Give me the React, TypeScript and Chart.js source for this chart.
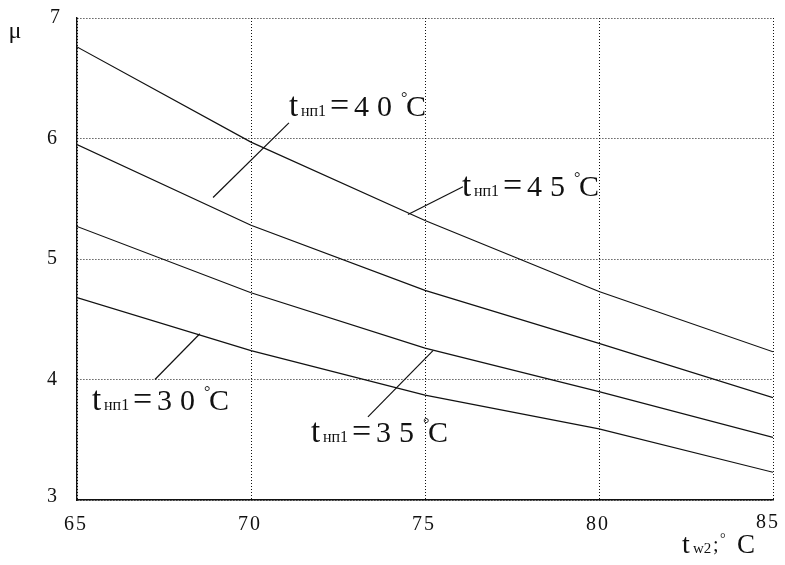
import React, { useEffect, useRef } from "react";
import { Chart, registerables } from "chart.js";

Chart.register(...registerables);

const xValues = [65, 70, 75, 80, 85];
const mu45 = [6.76, 5.97, 5.32, 4.73, 4.23];
const mu40 = [5.95, 5.28, 4.74, 4.3, 3.85];
const mu35 = [5.27, 4.72, 4.26, 3.9, 3.52];
const mu30 = [4.68, 4.24, 3.87, 3.59, 3.23];

const xTicks = [65, 70, 75, 80, 85];
const yTicks = [3, 4, 5, 6, 7];

// curve labels: temperature, leader line (data coords) and text anchor (data coords)
const labelTemps = ["40", "45", "35", "30"];
const leaderFrom = [
  [68.91, 5.51],
  [74.51, 5.37],
  [73.36, 3.69],
  [67.24, 4.0],
];
const leaderTo = [
  [71.09, 6.13],
  [76.09, 5.6],
  [75.23, 4.24],
  [68.53, 4.38],
];
const textAt = [
  [71.12, 6.19],
  [76.09, 5.52],
  [71.75, 3.48],
  [65.46, 3.75],
];

const FONT = "'Liberation Serif', 'DejaVu Serif', serif";

function drawCurveLabel(ctx: CanvasRenderingContext2D, x: number, y: number, temp: string) {
  ctx.save();
  (ctx as any).letterSpacing = "0px";
  ctx.fillStyle = "#111";
  ctx.textAlign = "left";
  ctx.textBaseline = "alphabetic";
  ctx.font = `33px ${FONT}`;
  ctx.fillText("t", x - 1, y);
  ctx.font = `16px ${FONT}`;
  ctx.fillText("нп1", x + 11, y);
  ctx.font = `34px ${FONT}`;
  ctx.fillText("=", x + 40, y);
  ctx.font = `30px ${FONT}`;
  ctx.fillText(temp[0], x + 64, y);
  ctx.fillText(temp[1], x + 87, y);
  ctx.font = `16px ${FONT}`;
  ctx.fillText("°", x + 111, y - 13);
  ctx.font = `30px ${FONT}`;
  ctx.fillText("C", x + 116, y);
  ctx.restore();
}

const annotPlugin = {
  id: "annot",
  afterDatasetsDraw(chart: any) {
    const ctx: CanvasRenderingContext2D = chart.ctx;
    const xs = chart.scales.x;
    const ys = chart.scales.y;
    const area = chart.chartArea;
    ctx.save();
    ctx.strokeStyle = "#111";
    ctx.lineWidth = 1.2;
    for (let i = 0; i < labelTemps.length; i++) {
      ctx.beginPath();
      ctx.moveTo(xs.getPixelForValue(leaderFrom[i][0]), ys.getPixelForValue(leaderFrom[i][1]));
      ctx.lineTo(xs.getPixelForValue(leaderTo[i][0]), ys.getPixelForValue(leaderTo[i][1]));
      ctx.stroke();
      drawCurveLabel(ctx, xs.getPixelForValue(textAt[i][0]), ys.getPixelForValue(textAt[i][1]), labelTemps[i]);
    }
    // tick labels
    ctx.fillStyle = "#111";
    ctx.font = `20px ${FONT}`;
    (ctx as any).letterSpacing = "2px";
    ctx.textBaseline = "middle";
    ctx.textAlign = "center";
    for (const v of yTicks) {
      ctx.fillText(String(v), area.left - 24 + (v === 7 ? 3 : 0), ys.getPixelForValue(v) - (v === 3 ? 3 : 0));
    }
    for (const v of xTicks) {
      const last = v === xTicks[xTicks.length - 1];
      ctx.fillText(String(v), xs.getPixelForValue(v) - (last ? 5 : 1), area.bottom + (last ? 23 : 25));
    }
    (ctx as any).letterSpacing = "0px";
    // axis titles
    ctx.textAlign = "center";
    ctx.textBaseline = "alphabetic";
    ctx.font = `24px ${FONT}`;
    ctx.fillText("μ", 15, 38);
    ctx.textAlign = "left";
    const tx = area.right - 91;
    const ty = area.bottom + 53;
    ctx.font = `28px ${FONT}`;
    ctx.fillText("t", tx, ty);
    ctx.font = `15px ${FONT}`;
    ctx.fillText("w2", tx + 11, ty);
    ctx.font = `20px ${FONT}`;
    ctx.fillText(";", tx + 31, ty - 2);
    ctx.font = `14px ${FONT}`;
    ctx.fillText("°", tx + 38, ty - 10);
    ctx.font = `27px ${FONT}`;
    ctx.fillText("C", tx + 55, ty);
    ctx.restore();
  },
};

export default function App() {
  const ref = useRef<HTMLCanvasElement | null>(null);
  useEffect(() => {
    if (!ref.current) return;
    const mk = (vals: number[]) => ({
      data: xValues.map((x, i) => ({ x, y: vals[i] })),
      borderColor: "#111",
      borderWidth: 1.2,
      pointRadius: 0,
      tension: 0,
      fill: false,
    });
    const chart = new Chart(ref.current, {
      type: "line",
      data: { datasets: [mk(mu45), mk(mu40), mk(mu35), mk(mu30)] as any },
      options: {
        animation: false,
        responsive: false,
        devicePixelRatio: 1,
        layout: { padding: { left: 77, top: 18, right: 12, bottom: 65 } },
        plugins: { legend: { display: false }, tooltip: { enabled: false } },
        scales: {
          x: {
            type: "linear",
            min: 65,
            max: 85,
            ticks: { display: false, stepSize: 5 },
            grid: { color: "#111", lineWidth: 1, drawTicks: false },
            border: { display: true, color: "#111", width: 1.4, dash: [1, 2] },
          },
          y: {
            type: "linear",
            min: 3,
            max: 7,
            ticks: { display: false, stepSize: 1 },
            grid: { color: "#111", lineWidth: 1, drawTicks: false },
            border: { display: true, color: "#111", width: 1.4, dash: [1, 2] },
          },
        },
      },
      plugins: [annotPlugin],
    });
    return () => chart.destroy();
  }, []);
  return (
    <div style={{ position: "absolute", left: 0, top: 0, width: 785, height: 565, background: "#fff" }}>
      <canvas ref={ref} width={785} height={565} style={{ width: 785, height: 565 }} />
    </div>
  );
}
